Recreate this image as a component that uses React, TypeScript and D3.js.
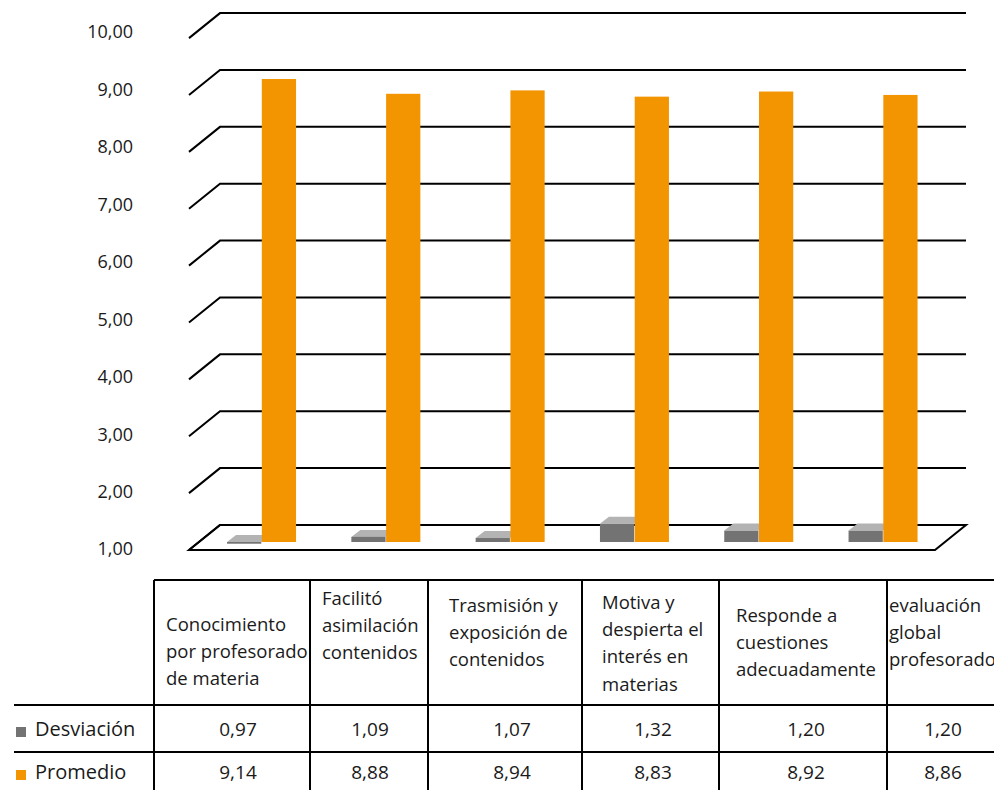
import React from "react";
import * as d3 from "d3";

const categories = [
  "Conocimiento por profesorado de materia",
  "Facilitó asimilación contenidos",
  "Trasmisión y exposición de contenidos",
  "Motiva y despierta el interés en materias",
  "Responde a cuestiones adecuadamente",
  "evaluación global profesorado",
];
const headerLines = [
  ["Conocimiento", "por profesorado", "de materia"],
  ["Facilitó", "asimilación", "contenidos"],
  ["Trasmisión y", "exposición de", "contenidos"],
  ["Motiva y", "despierta el", "interés en", "materias"],
  ["Responde a", "cuestiones", "adecuadamente"],
  ["evaluación", "global", "profesorado"],
];
const seriesNames = ["Desviación", "Promedio"];
const desviacion = [0.97, 1.09, 1.07, 1.32, 1.2, 1.2];
const promedio = [9.14, 8.88, 8.94, 8.83, 8.92, 8.86];
const yTicks = [1, 2, 3, 4, 5, 6, 7, 8, 9, 10];

// layout (not data)
const W = 994;
const H = 790;
const FONT = "'Open Sans', sans-serif";
const colEdges = [154, 310, 428, 582, 719, 887, 999];
const headerX = [166, 322, 449, 602, 736, 889];
const headerY0 = [624, 598, 605, 602, 615, 605];
const valueX = [238, 370, 512, 653, 806, 943];
const colors = { dev: "#737373", devTop: "#b3b3b3", prom: "#f39500" };

export default function App() {
  const y = d3.scaleLinear().domain([1, 10]).range([542, 30.1]);
  const yLabel = d3.scaleLinear().domain([1, 10]).range([549, 32]);
  const x = d3.scaleBand<string>().domain(categories).range([199.4, 945.2]).padding(0);
  const xs = d3.scaleBand<string>().domain(seriesNames).range([-34.5, 34.5]).paddingInner(0.015);
  const backOff = -17;
  const frontOff = 8;
  const leftFront = 189;
  const leftBack = 220;
  const rightBack = 966;
  const rightFront = 935;
  const fmt = (v: number) => d3.format(".2f")(v).replace(".", ",");
  const bw = xs.bandwidth();
  const tdx = 9;
  const tdy = 7;

  return (
    <svg width={W} height={H} style={{ position: "absolute", left: 0, top: 0, background: "#fff" }} fontFamily={FONT}>
      <rect width={W} height={H} fill="#fff" />
      {/* floor */}
      <path
        d={`M${leftFront},${y(1) + frontOff} L${leftBack},${y(1) + backOff} L${rightBack},${y(1) + backOff} L${rightFront},${y(1) + frontOff} Z`}
        fill="#fff"
        stroke="#000"
        strokeWidth={2}
      />
      {/* grid */}
      {yTicks.map((t) => (
        <g key={t}>
          <path
            d={`M${leftFront},${y(t) + frontOff} L${leftBack},${y(t) + backOff} L${rightBack},${y(t) + backOff}`}
            fill="none"
            stroke="#000"
            strokeWidth={2}
          />
          <text x={133} y={yLabel(t)} dy="0.36em" textAnchor="end" fontSize={18} fill="#1a1a1a">
            {fmt(t)}
          </text>
        </g>
      ))}
      {/* bars */}
      {categories.map((c, i) => {
        const gx = (x(c) as number) + x.bandwidth() / 2;
        const dxl = gx + (xs("Desviación") as number);
        const dTop = Math.min(y(desviacion[i]), y(1));
        const dBot = Math.max(y(desviacion[i]), y(1));
        const px = gx + (xs("Promedio") as number);
        return (
          <g key={c}>
            <path
              d={`M${dxl},${dTop} L${dxl + tdx},${dTop - tdy} L${dxl + bw + tdx},${dTop - tdy} L${dxl + bw},${dTop} Z`}
              fill={colors.devTop}
            />
            <rect x={dxl} y={dTop} width={bw} height={Math.max(1.5, dBot - dTop)} fill={colors.dev} />
            <rect x={px} y={y(promedio[i])} width={bw} height={y(1) - y(promedio[i])} fill={colors.prom} />
          </g>
        );
      })}
      {/* table */}
      <g stroke="#000" strokeWidth={2}>
        <line x1={colEdges[0]} x2={W} y1={580} y2={580} />
        <line x1={14} x2={W} y1={705} y2={705} />
        <line x1={14} x2={W} y1={752} y2={752} />
        {colEdges.slice(0, 6).map((e) => (
          <line key={e} x1={e} x2={e} y1={580} y2={H} />
        ))}
      </g>
      {headerLines.map((lines, i) => (
        <text key={i} fontSize={18.5} fill="#1a1a1a">
          {lines.map((l, j) => (
            <tspan key={j} x={headerX[i]} y={headerY0[i] + j * 27.3} dy="0.36em">
              {l}
            </tspan>
          ))}
        </text>
      ))}
      {[desviacion, promedio].map((arr, r) => (
        <g key={r}>
          <rect x={16} y={r === 0 ? 727 : 770} width={10} height={10} fill={r === 0 ? colors.dev : colors.prom} />
          <text x={35} y={r === 0 ? 729 : 772} dy="0.36em" fontSize={20} fill="#1a1a1a">
            {seriesNames[r]}
          </text>
          {arr.map((v, i) => (
            <text key={i} x={valueX[i]} y={r === 0 ? 729 : 772} dy="0.36em" fontSize={19} textAnchor="middle" fill="#1a1a1a">
              {fmt(v)}
            </text>
          ))}
        </g>
      ))}
    </svg>
  );
}
